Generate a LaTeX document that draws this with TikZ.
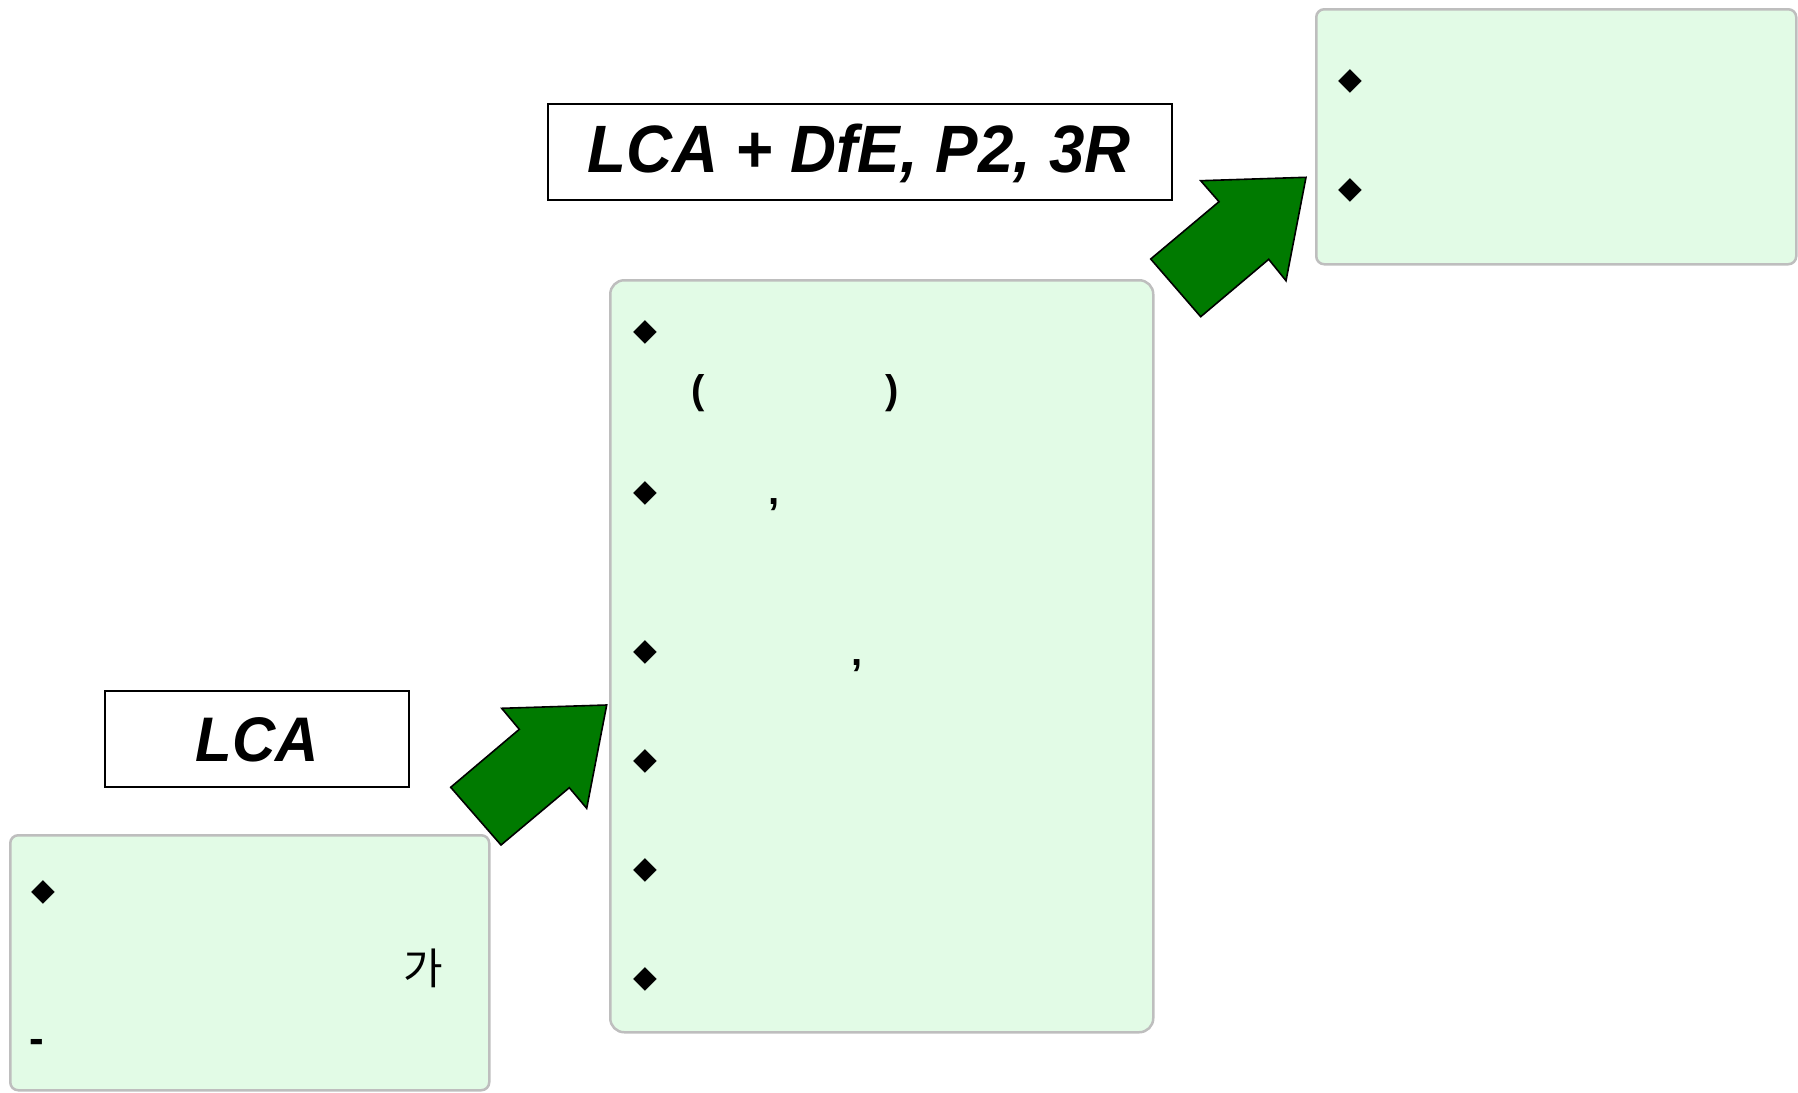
\documentclass[tikz,border=0pt]{standalone}
\usepackage{fontspec}
\setmainfont{Liberation Sans}
\newfontfamily\dejavu{DejaVu Sans}
\newfontfamily\kr{Noto Sans CJK KR}
\definecolor{boxfill}{HTML}{E2FBE6}
\definecolor{boxline}{HTML}{BEBEBE}
\definecolor{arrowgreen}{HTML}{007A00}
\begin{document}
\begin{tikzpicture}[x=1pt,y=-1pt,
  greenbox/.style={draw=boxline, line width=2.5pt, fill=boxfill, rounded corners=8pt, anchor=north west, inner sep=0pt},
  titlebox/.style={draw=black, line width=1.8pt, fill=white, anchor=north west, inner sep=0pt},
  bullet/.style={font=\dejavu\fontsize{31}{33}\selectfont, inner sep=0pt},
  bodytxt/.style={font=\bfseries\fontsize{40}{44}\selectfont, inner sep=0pt},
  titletxt/.style={font=\bfseries\itshape\fontsize{67}{72}\selectfont, inner sep=0pt, xscale=0.95},
  blockarrow/.style={fill=arrowgreen, draw=black, line width=1.6pt, line join=miter}
]
\useasboundingbox (0,0) rectangle (1798,1092);

% boxes
\node (boxA) [greenbox, minimum width=479pt, minimum height=255pt] at (9,834) {};
\node (boxB) [greenbox, rounded corners=14pt, minimum width=543pt, minimum height=752pt] at (609,279) {};
\node (boxC) [greenbox, minimum width=480pt, minimum height=255pt] at (1315,8) {};

% title boxes
\node (lcaBox) [titlebox, minimum width=304pt, minimum height=96pt] at (104,690) {};
\node (lcaTxt) [titletxt, font=\bfseries\itshape\fontsize{63}{70}\selectfont] at (257,740) {LCA};
\node (topBox) [titlebox, minimum width=624pt, minimum height=96pt] at (547,103) {};
\node (topTxt) [titletxt] at (859,153) {LCA + DfE, P2, 3R};

% block arrows
\draw[blockarrow] (501.7,708.3) -- (606.7,705) -- (586.7,808.3) -- (569.3,787.7) -- (501,845) -- (450.7,787.3) -- (519.3,729.3) -- cycle;
\draw[blockarrow] (1200.7,180.7) -- (1306,177.3) -- (1286,280.7) -- (1268.7,259.3) -- (1200.7,316.7) -- (1150.7,259) -- (1219,201.7) -- cycle;

% box A contents
\node (a1) [bullet] at (43.6,892) {◆};
\node (a2) [font=\kr\fontsize{43}{46}\selectfont, inner sep=0pt] at (423,968) {가};
\node (a3) [bodytxt, font=\bfseries\fontsize{44}{46}\selectfont] at (36.7,1046) {-};

% box B contents
\node (b1) [bullet] at (645.6,332.5) {◆};
\node (b1l) [bodytxt] at (698,393) {(};
\node (b1r) [bodytxt] at (892,393) {)};
\node (b2) [bullet] at (645.6,493) {◆};
\node (b2c) [bodytxt] at (774,505) {,};
\node (b3) [bullet] at (645.6,652.5) {◆};
\node (b3c) [bodytxt] at (856.6,666) {,};
\node (b4) [bullet] at (645.6,761) {◆};
\node (b5) [bullet] at (645.6,870) {◆};
\node (b6) [bullet] at (645.6,979) {◆};

% box C contents
\node (c1) [bullet] at (1350,81) {◆};
\node (c2) [bullet] at (1350,190) {◆};
\end{tikzpicture}
\end{document}
